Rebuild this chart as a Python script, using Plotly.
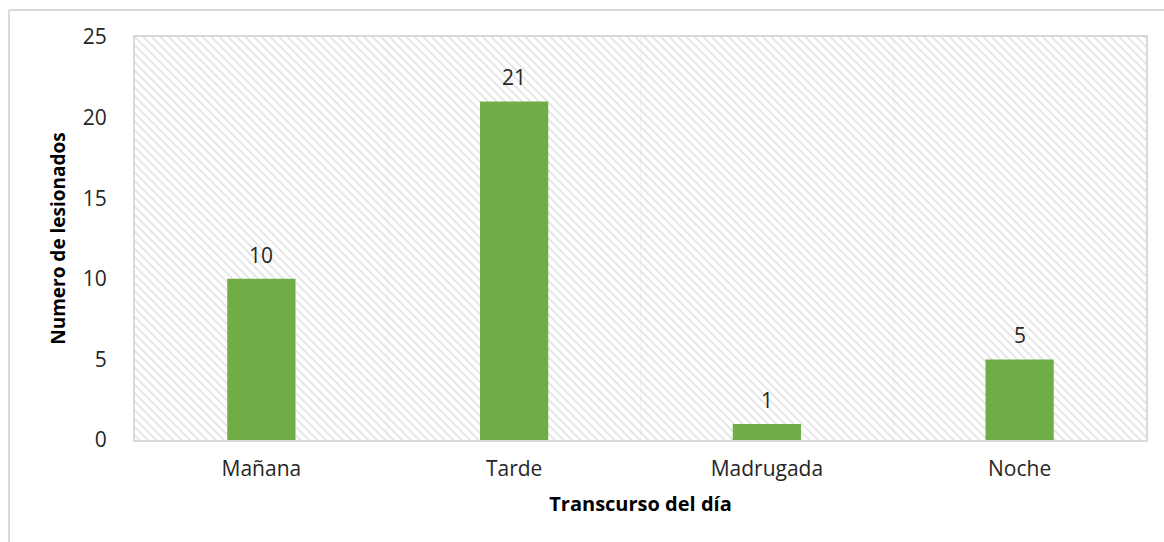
import plotly.graph_objects as go

categorias = ["Mañana", "Tarde", "Madrugada", "Noche"]
lesionados = [10, 21, 1, 5]
y_max = 25
y_ticks = [0, 5, 10, 15, 20, 25]

font_family = "Open Sans, DejaVu Sans, sans-serif"
grid_color = "#d9d9d9"
text_color = "#262626"

fig = go.Figure()

# hatched background band filling each category slot
fig.add_trace(go.Bar(
    x=categorias,
    y=[y_max] * len(categorias),
    width=1,
    marker=dict(
        color="rgba(255,255,255,0)",
        line=dict(width=0),
        pattern=dict(shape="\\", fgcolor="#c4c4c4", bgcolor="white",
                     size=6, solidity=0.3),
    ),
    hoverinfo="skip",
    showlegend=False,
))

fig.add_trace(go.Bar(
    x=categorias,
    y=lesionados,
    width=0.27,
    marker=dict(color="#70ad47", line=dict(width=0)),
    showlegend=False,
))

for cat, val in zip(categorias, lesionados):
    fig.add_annotation(
        x=cat, y=val, text=str(val), showarrow=False,
        yshift=24, font=dict(family=font_family, size=21, color=text_color),
    )

# outer chart frame
fig.add_shape(type="line", xref="paper", yref="paper",
              x0=-0.1246, x1=1.2, y0=1.067, y1=1.067,
              line=dict(color=grid_color, width=2))
fig.add_shape(type="line", xref="paper", yref="paper",
              x0=-0.1246, x1=-0.1246, y0=1.067, y1=-0.5,
              line=dict(color=grid_color, width=2))

fig.update_layout(
    width=1164, height=542,
    margin=dict(l=135, r=18, t=37, b=102),
    paper_bgcolor="white",
    plot_bgcolor="white",
    barmode="overlay",
    font=dict(family=font_family, color=text_color),
    xaxis=dict(
        type="category",
        tickson="boundaries",
        showgrid=True, gridcolor=grid_color, gridwidth=2,
        showline=True, linecolor=grid_color, linewidth=2, mirror=True,
        ticks="", tickfont=dict(size=21, color=text_color),
        ticklabelstandoff=9,
        title=dict(text="<b>Transcurso del día</b>",
                   font=dict(size=20, color="#000000"), standoff=16),
        range=[-0.5, 3.5],
    ),
    yaxis=dict(
        range=[0, y_max], tickvals=y_ticks,
        showgrid=True, gridcolor=grid_color, gridwidth=2,
        showline=True, linecolor=grid_color, linewidth=2, mirror=True,
        zeroline=False,
        ticks="", tickfont=dict(size=21, color=text_color),
        ticklabelstandoff=22,
        title=dict(text="<b>Numero de lesionados</b>",
                   font=dict(size=19, color="#000000"), standoff=12),
    ),
)

fig.write_html("out.html")
